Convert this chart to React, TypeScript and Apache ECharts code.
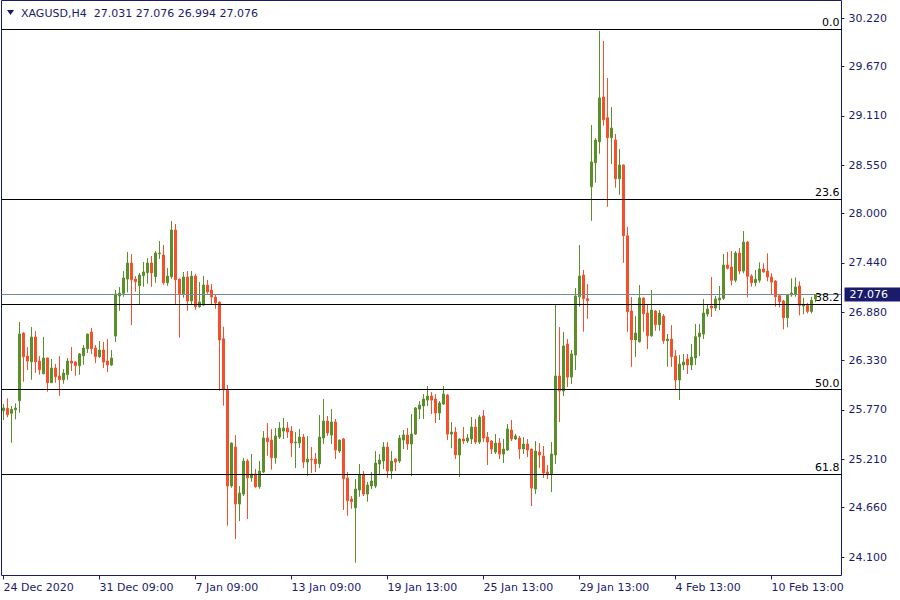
import React, { useEffect, useRef } from "react";
import * as echarts from "echarts";

const FONT = "DejaVu Sans";
const NAVY = "#1b1b6b";
const UP = "#5a8f29";
const DOWN = "#f5502a";

const symbolTitle = "XAGUSD,H4";
const lastQuote = ["27.031", "27.076", "26.994", "27.076"];

const opens = [
  25.761, 25.788, 25.731, 25.772, 25.874, 26.643, 26.382, 26.317, 26.598, 26.325, 26.181, 26.359,
  26.079, 26.246, 26.155, 26.113, 26.170, 26.325, 26.314, 26.272, 26.385, 26.465, 26.654, 26.473,
  26.374, 26.450, 26.325, 26.280, 26.609, 27.063, 27.094, 27.256, 27.438, 27.256, 27.180, 27.294,
  27.328, 27.438, 27.283, 27.544, 27.529, 27.214, 27.283, 27.813, 27.256, 27.089, 27.279, 27.007,
  27.290, 26.942, 26.961, 27.188, 27.131, 27.052, 26.995, 26.578, 26.002, 24.906, 25.349, 24.702,
  24.815, 25.190, 25.000, 25.042, 24.898, 25.065, 25.451, 25.428, 25.227, 25.462, 25.530, 25.564,
  25.530, 25.398, 25.394, 25.462, 25.178, 25.212, 25.212, 25.159, 25.451, 25.644, 25.485, 25.632,
  25.303, 25.440, 24.997, 24.758, 24.659, 24.861, 25.031, 24.815, 24.906, 24.906, 25.156, 25.190,
  25.349, 25.076, 25.212, 25.190, 25.428, 25.485, 25.383, 25.496, 25.780, 25.814, 25.882, 25.928,
  25.894, 25.735, 25.837, 25.939, 25.496, 25.519, 25.258, 25.440, 25.417, 25.440, 25.576, 25.405,
  25.701, 25.462, 25.417, 25.292, 25.394, 25.269, 25.315, 25.542, 25.440, 25.451, 25.326, 25.383,
  25.326, 24.872, 25.292, 25.247, 25.065, 25.042, 25.258, 26.155, 25.985, 26.518, 26.143, 26.393,
  27.055, 27.302, 27.033, 28.304, 28.577, 28.815, 29.323, 29.088, 28.861, 28.835, 28.395, 28.551,
  27.748, 26.893, 26.564, 26.544, 27.041, 26.870, 26.612, 26.893, 26.738, 26.836, 26.556, 26.575,
  26.382, 26.110, 26.280, 26.348, 26.280, 26.359, 26.601, 26.632, 26.859, 26.950, 26.927, 27.018,
  27.037, 27.415, 27.393, 27.242, 27.552, 27.347, 27.676, 27.290, 27.214, 27.242, 27.370, 27.347,
  27.279, 27.233, 27.067, 27.007, 26.817, 27.075, 27.086, 27.177, 26.950, 26.957, 26.889, 27.031,
];

const closes = [
  25.792, 25.715, 25.777, 25.792, 26.632, 26.374, 26.325, 26.598, 26.317, 26.227, 26.359, 26.079,
  26.246, 26.147, 26.113, 26.189, 26.325, 26.302, 26.272, 26.405, 26.473, 26.632, 26.465, 26.374,
  26.450, 26.314, 26.280, 26.359, 27.086, 27.097, 27.268, 27.438, 27.248, 27.226, 27.302, 27.336,
  27.438, 27.325, 27.552, 27.552, 27.214, 27.290, 27.813, 27.248, 27.089, 27.279, 27.007, 27.290,
  26.942, 26.995, 27.188, 27.109, 27.052, 26.987, 26.564, 26.000, 24.906, 25.394, 24.702, 24.826,
  25.190, 25.000, 25.042, 24.898, 25.076, 25.451, 25.409, 25.227, 25.474, 25.564, 25.564, 25.519,
  25.394, 25.405, 25.462, 25.178, 25.212, 25.204, 25.159, 25.462, 25.644, 25.508, 25.632, 25.315,
  25.428, 24.989, 24.739, 24.728, 24.872, 25.031, 24.815, 24.917, 24.963, 25.167, 25.201, 25.349,
  25.076, 25.190, 25.178, 25.451, 25.485, 25.383, 25.496, 25.792, 25.826, 25.894, 25.928, 25.882,
  25.735, 25.848, 25.950, 25.496, 25.519, 25.258, 25.440, 25.417, 25.451, 25.576, 25.405, 25.689,
  25.451, 25.405, 25.326, 25.394, 25.269, 25.326, 25.553, 25.440, 25.474, 25.326, 25.383, 25.315,
  24.883, 25.303, 25.258, 25.053, 25.042, 25.269, 26.155, 25.985, 26.496, 26.143, 26.405, 27.063,
  27.290, 27.033, 27.010, 28.585, 28.835, 29.312, 29.065, 28.861, 28.971, 28.395, 28.551, 27.748,
  26.885, 26.567, 26.643, 27.041, 26.862, 26.612, 26.904, 26.738, 26.870, 26.556, 26.575, 26.374,
  26.110, 26.291, 26.314, 26.280, 26.371, 26.601, 26.643, 26.870, 26.916, 26.927, 27.029, 27.041,
  27.415, 27.378, 27.242, 27.552, 27.347, 27.676, 27.287, 27.214, 27.253, 27.370, 27.336, 27.279,
  27.222, 27.055, 26.999, 26.817, 27.075, 27.097, 27.165, 26.958, 26.969, 26.889, 27.014, 27.076,
];

const highs = [
  25.837, 25.902, 25.814, 25.845, 26.768, 26.654, 26.484, 26.711, 26.666, 26.382, 26.598, 26.362,
  26.348, 26.291, 26.382, 26.234, 26.359, 26.484, 26.325, 26.416, 26.507, 26.636, 26.700, 26.507,
  26.552, 26.541, 26.575, 26.450, 27.131, 27.165, 27.347, 27.563, 27.540, 27.290, 27.325, 27.449,
  27.495, 27.518, 27.574, 27.688, 27.642, 27.381, 27.915, 27.881, 27.260, 27.336, 27.347, 27.347,
  27.313, 27.222, 27.290, 27.245, 27.199, 27.086, 27.000, 26.715, 26.053, 25.400, 25.485, 24.906,
  25.224, 25.212, 25.269, 25.099, 25.190, 25.530, 25.621, 25.553, 25.564, 25.632, 25.678, 25.632,
  25.587, 25.519, 25.553, 25.496, 25.474, 25.349, 25.281, 25.712, 25.894, 25.701, 25.780, 25.667,
  25.432, 25.451, 25.065, 24.792, 24.985, 25.156, 25.076, 24.951, 25.065, 25.303, 25.269, 25.405,
  25.405, 25.303, 25.218, 25.485, 25.542, 25.564, 25.723, 25.803, 25.871, 25.950, 26.041, 25.973,
  25.950, 25.871, 26.041, 25.950, 25.632, 25.576, 25.451, 25.576, 25.496, 25.689, 25.667, 25.712,
  25.769, 25.519, 25.428, 25.496, 25.451, 25.440, 25.610, 25.655, 25.496, 25.474, 25.462, 25.440,
  25.330, 25.417, 25.394, 25.360, 25.144, 25.405, 26.972, 26.711, 26.654, 26.575, 26.450, 27.154,
  27.642, 27.359, 27.199, 29.005, 28.857, 30.072, 29.959, 29.539, 29.209, 28.903, 28.732, 28.556,
  27.850, 27.052, 26.836, 27.188, 27.045, 26.961, 27.131, 26.904, 26.904, 26.859, 26.632, 26.734,
  26.450, 26.393, 26.405, 26.405, 26.518, 26.745, 26.745, 27.029, 26.972, 27.279, 27.063, 27.177,
  27.540, 27.563, 27.574, 27.574, 27.608, 27.801, 27.688, 27.310, 27.359, 27.446, 27.435, 27.548,
  27.321, 27.245, 27.086, 27.018, 27.086, 27.264, 27.275, 27.230, 27.044, 26.984, 27.055, 27.076,
];

const lows = [
  25.655, 25.686, 25.398, 25.663, 25.738, 26.090, 26.223, 26.113, 26.192, 26.170, 26.175, 25.977,
  26.075, 26.079, 25.931, 26.068, 26.113, 26.212, 26.158, 26.170, 26.283, 26.416, 26.405, 26.302,
  26.359, 26.246, 26.200, 26.268, 26.541, 26.896, 27.055, 27.105, 26.734, 27.112, 26.972, 27.169,
  27.203, 27.169, 27.214, 27.483, 27.192, 27.180, 27.260, 26.972, 26.590, 27.044, 26.896, 26.961,
  26.908, 26.930, 26.955, 27.089, 26.965, 26.919, 25.988, 25.818, 24.455, 24.887, 24.304, 24.508,
  24.792, 24.531, 24.955, 24.887, 24.875, 25.053, 25.250, 25.091, 25.159, 25.440, 25.440, 25.451,
  25.235, 25.110, 25.337, 25.110, 25.019, 25.053, 25.065, 25.110, 25.383, 25.474, 25.383, 25.212,
  25.281, 24.634, 24.569, 24.648, 24.035, 24.784, 24.792, 24.728, 24.872, 24.883, 25.031, 25.099,
  24.997, 24.985, 25.076, 25.167, 25.326, 25.315, 25.019, 25.485, 25.667, 25.667, 25.814, 25.723,
  25.621, 25.655, 25.826, 25.428, 25.337, 25.212, 25.008, 25.383, 25.394, 25.383, 25.383, 25.383,
  25.405, 25.144, 25.269, 25.269, 25.212, 25.167, 25.303, 25.417, 25.428, 25.212, 25.269, 25.235,
  24.679, 24.815, 25.110, 24.997, 24.985, 24.838, 25.156, 25.632, 25.928, 26.030, 26.064, 26.223,
  26.942, 26.658, 26.805, 27.918, 28.350, 28.679, 28.997, 28.077, 28.562, 28.293, 28.214, 27.441,
  26.658, 26.260, 26.371, 26.535, 26.658, 26.461, 26.601, 26.669, 26.669, 26.522, 26.260, 26.260,
  25.996, 25.882, 26.223, 26.178, 26.223, 26.280, 26.382, 26.575, 26.828, 26.825, 26.893, 26.904,
  27.018, 27.366, 27.185, 27.219, 27.310, 27.321, 27.048, 27.169, 27.173, 27.214, 27.328, 27.230,
  27.086, 26.942, 26.935, 26.685, 26.708, 27.055, 27.055, 26.844, 26.856, 26.866, 26.866, 26.994,
];

const timeLabels = [
  "24 Dec 2020",
  "31 Dec 09:00",
  "7 Jan 09:00",
  "13 Jan 09:00",
  "19 Jan 13:00",
  "25 Jan 13:00",
  "29 Jan 13:00",
  "4 Feb 13:00",
  "10 Feb 13:00",
];
const barsPerLabel = 24;
const totalSlots = 210;

const yTicks = [30.22, 29.67, 29.11, 28.55, 28.0, 27.44, 26.88, 26.33, 25.77, 25.21, 24.66, 24.1];
const yMin = 23.89;
const yMax = 30.419;

const fibHigh = 30.092;
const fibLow = 21.916;
const fibLevels = [0, 23.6, 38.2, 50, 61.8];
const currentPrice = 27.076;

export default function App() {
  const ref = useRef<HTMLDivElement>(null);

  useEffect(() => {
    if (!ref.current) return;
    const chart = echarts.init(ref.current, null, { renderer: "svg" });
    const categories = Array.from({ length: totalSlots }, (_, i) => String(i));
    const candles = opens.map((o, i) => [o, closes[i], lows[i], highs[i]]);
    const labelInterval = (idx: number) =>
      idx % barsPerLabel === 0 && idx / barsPerLabel < timeLabels.length;

    const fibData: any[] = fibLevels.map((l) => ({
      yAxis: fibHigh - ((fibHigh - fibLow) * l) / 100,
      label: { formatter: l.toFixed(1) },
    }));
    fibData.push({
      yAxis: currentPrice,
      lineStyle: { color: "#778899", width: 1, type: "solid" },
      label: {
        position: "end",
        formatter: currentPrice.toFixed(3),
        backgroundColor: NAVY,
        color: "#ffffff",
        padding: [2, 16, 1, 5],
        distance: 3,
      },
    });

    chart.setOption({
      animation: false,
      backgroundColor: "#ffffff",
      textStyle: { fontFamily: FONT },
      grid: {
        left: 1.5,
        top: 0.5,
        width: 840,
        height: 575,
        show: true,
        borderColor: NAVY,
        borderWidth: 1,
        backgroundColor: "transparent",
      },
      xAxis: {
        type: "category",
        data: categories,
        boundaryGap: true,
        axisLine: { show: false },
        axisTick: {
          show: true,
          alignWithLabel: true,
          interval: labelInterval,
          length: 4,
          lineStyle: { color: NAVY },
        },
        axisLabel: {
          interval: labelInterval,
          formatter: (_v: string, idx: number) => timeLabels[idx / barsPerLabel] ?? "",
          align: "left",
          margin: 6,
          color: NAVY,
          fontFamily: FONT,
          fontSize: 11,
        },
        splitLine: { show: false },
      },
      yAxis: {
        type: "value",
        position: "right",
        min: yMin,
        max: yMax,
        axisLine: { show: false },
        axisTick: {
          show: true,
          length: 3,
          customValues: yTicks,
          lineStyle: { color: NAVY },
        },
        axisLabel: {
          customValues: yTicks,
          formatter: (v: number) => v.toFixed(3),
          margin: 7,
          color: NAVY,
          fontFamily: FONT,
          fontSize: 11,
        },
        splitLine: { show: false },
      },
      series: [
        {
          type: "candlestick",
          data: candles,
          barWidth: 2,
          itemStyle: {
            color: UP,
            color0: DOWN,
            borderColor: UP,
            borderColor0: DOWN,
            borderWidth: 1,
          },
          markLine: {
            silent: true,
            symbol: ["none", "none"],
            animation: false,
            lineStyle: { color: "#000000", width: 1, type: "solid" },
            label: {
              position: "insideEndTop",
              color: "#000000",
              fontFamily: FONT,
              fontSize: 11,
              distance: [2, 1],
            },
            data: fibData,
          },
        },
      ],
      graphic: [
        {
          type: "polygon",
          shape: { points: [[7, 10], [14, 10], [10.5, 15]] },
          style: { fill: NAVY },
        },
        {
          type: "text",
          x: 21,
          y: 13,
          style: {
            text: symbolTitle + "  " + lastQuote.join(" "),
            fill: NAVY,
            fontFamily: FONT,
            fontSize: 11,
            verticalAlign: "middle",
          },
        },
      ],
    });

    return () => chart.dispose();
  }, []);

  return (
    <div
      ref={ref}
      style={{ position: "fixed", left: 0, top: 0, width: 900, height: 600, background: "#fff" }}
    />
  );
}
